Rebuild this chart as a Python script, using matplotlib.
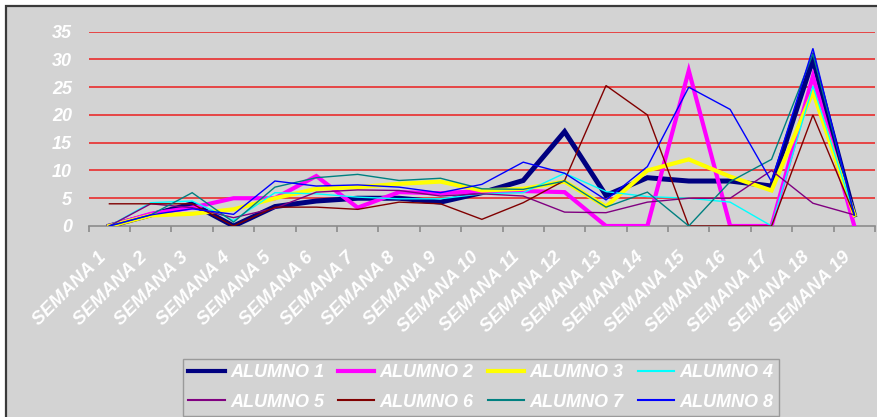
import matplotlib
matplotlib.use("Agg")
import matplotlib.pyplot as plt
from matplotlib.patches import Rectangle
from matplotlib.lines import Line2D
from matplotlib.transforms import ScaledTranslation, blended_transform_factory

# Weekly scores per student
semanas = [f"SEMANA {i}" for i in range(1, 20)]

alumno_1 = [0, 2, 4, 0, 3.5, 4.5, 5, 5, 4.3, 6, 8.2, 17, 5.5, 8.7, 8.1, 8.1, 7.2, 30, 2]
alumno_2 = [0, 2.2, 3.3, 5, 5, 9, 3.3, 6.1, 5.9, 6.3, 6.3, 6.1, 0, 0, 28, 0, 0, 27, 0]
alumno_3 = [0, 1.9, 2.2, 3, 5, 6.7, 7, 7.6, 8, 6.4, 6.7, 8, 3.5, 10, 12, 8.9, 6.4, 24.2, 2]
alumno_4 = [0, 4.2, 4.5, 1, 6, 5.8, 5.2, 4.9, 4.9, 5.8, 6, 9.5, 6.2, 5.3, 5, 4.3, 0, 25.2, 2]
alumno_5 = [0, 4, 3.3, 1.5, 3.2, 6.1, 6.5, 6.4, 5.4, 5.8, 5.4, 2.5, 2.4, 4.3, 5, 5, 10, 4.1, 2]
alumno_6 = [4, 4, 4, 0, 3.4, 3.4, 3, 4.3, 4, 1.2, 4.2, 8.2, 25.3, 20, 0, 0, 0, 20, 2]
alumno_7 = [0, 2, 6, 0.7, 7, 8.7, 9.3, 8.2, 8.6, 6.7, 6.6, 8.1, 3.4, 6.1, 0, 8, 12, 31, 2]
alumno_8 = [0, 2, 3.1, 2.1, 8.1, 7.2, 7.4, 7, 6, 7.5, 11.5, 9.5, 4.7, 10.7, 25, 21, 8, 32, 2]

series = [alumno_1, alumno_2, alumno_3, alumno_4,
          alumno_5, alumno_6, alumno_7, alumno_8]
nombres = [f"ALUMNO {i}" for i in range(1, 9)]
colores = ["#000080", "#FF00FF", "#FFFF00", "#00FFFF",
           "#800080", "#800000", "#008080", "#0000FF"]
grosores = [3.6, 3.0, 3.0, 1.0, 1.0, 1.0, 1.0, 1.0]
leyenda_grosor = [3.0, 3.0, 3.0, 1.5, 1.5, 1.5, 1.5, 1.5]

W, H = 877, 417
fig = plt.figure(figsize=(W / 100, H / 100), dpi=100)
fig.patch.set_facecolor("white")

BG = "#D3D3D3"
fig.add_artist(Rectangle((6 / W, -0.1), 1.2, 1 - 6 / H + 0.1,
                         transform=fig.transFigure, facecolor=BG,
                         edgecolor="#3A3A3A", linewidth=1.6, zorder=0))

left, right, top, bottom = 88.7, 875, 31.7, 226
ax = fig.add_axes([left / W, 1 - bottom / H, (right - left) / W, (bottom - top) / H])
ax.set_facecolor(BG)
ax.patch.set_alpha(0)

x = list(range(1, 20))
for vals, col, lw in zip(series, colores, grosores):
    ax.plot(x, vals, color=col, linewidth=lw, solid_joinstyle="miter", zorder=3)

ax.set_xlim(0.5, 19.5)
ax.set_ylim(0, 35)

for s in ("left", "right", "top"):
    ax.spines[s].set_visible(False)
ax.spines["bottom"].set_color("#8C8C8C")
ax.spines["bottom"].set_linewidth(1.2)

for v in range(5, 40, 5):
    ax.axhline(v, color="#E83A3A", linewidth=1.3, zorder=1)

font = dict(family="Liberation Sans", weight="bold", style="italic", color="white")
ax.set_yticks(range(0, 40, 5))
ax.set_yticklabels([str(v) for v in range(0, 40, 5)], fontsize=13, **font)
ax.tick_params(axis="y", length=0, pad=12)

# tick marks sit on category boundaries; week names hang below the centres
ax.set_xticks([i + 0.5 for i in range(0, 20)])
ax.set_xticklabels([])
ax.tick_params(axis="x", which="major", length=4, color="#8C8C8C", width=1.2, direction="out")

lbl_tr = blended_transform_factory(ax.transData, ax.transAxes) + \
    ScaledTranslation(-12 / 100, -23 / 100, fig.dpi_scale_trans)
for xi, name in zip(x, semanas):
    ax.text(xi, 0, name, transform=lbl_tr, rotation=45, ha="right", va="top",
            rotation_mode="anchor", fontsize=13.5, clip_on=False, **font)

# legend filled row by row: 1-4 on top, 5-8 below
handles = [Line2D([], [], color=c, linewidth=lw) for c, lw in zip(colores, leyenda_grosor)]
orden = [0, 4, 1, 5, 2, 6, 3, 7]
leg = fig.legend([handles[i] for i in orden], [nombres[i] for i in orden],
                 ncol=4, loc="lower left",
                 bbox_to_anchor=(183 / W, 1 - 416 / H, (779 - 183) / W, (416 - 357) / H),
                 mode="expand", borderaxespad=0, frameon=True, fancybox=False,
                 facecolor=BG, edgecolor="#9A9A9A", framealpha=1,
                 handlelength=2.0, handletextpad=0.3, columnspacing=0.6,
                 borderpad=0.3, labelspacing=0.7,
                 prop=dict(family="Liberation Sans", weight="bold", style="italic", size=13))
for t in leg.get_texts():
    t.set_color("white")

fig.savefig("out.png", dpi=100, facecolor=fig.get_facecolor())
